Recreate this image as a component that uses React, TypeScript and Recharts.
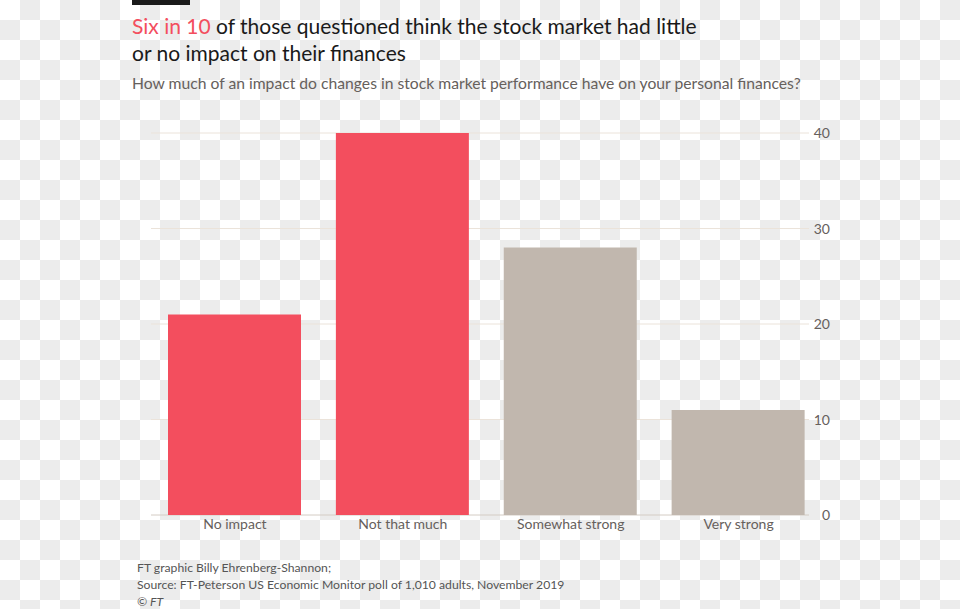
import React from "react";
import { BarChart, Bar, XAxis, YAxis, CartesianGrid, Cell } from "recharts";

const categories = ["No impact", "Not that much", "Somewhat strong", "Very strong"];
const shares = [21, 40, 28, 11];
const yTicks = [0, 10, 20, 30, 40];
const barColors = ["#f34e5e", "#f34e5e", "#c1b7ae", "#c1b7ae"];

const data = categories.map((c, i) => ({ category: c, share: shares[i] }));

const FONT = "Lato, 'Open Sans', sans-serif";
const LABEL = "#66605c";

const XTick = (props: any) => {
  const { x, y, payload } = props;
  return (
    <text x={x} y={y} dy={14} textAnchor="middle" fill={LABEL} fontSize={14} fontFamily={FONT}>
      {payload.value}
    </text>
  );
};

const YTick = (props: any) => {
  const { x, y, payload } = props;
  return (
    <text x={x + 7.5} y={y} dy={5} textAnchor="end" fill={LABEL} fontSize={14} fontFamily={FONT}>
      {payload.value}
    </text>
  );
};

const gridLine = (props: any) => {
  const { x1, x2, y1, y2, y, height } = props;
  const isBase = typeof y === "number" && typeof height === "number" && Math.abs(y1 - (y + height)) < 1;
  return (
    <line
      key={props.key ?? `g-${y1}`}
      x1={x1}
      x2={x2 - 13.5}
      y1={y1}
      y2={y2}
      stroke={isBase ? "#d4ccc4" : "#ebe3da"}
      strokeWidth={1}
    />
  );
};

export default function App() {
  return (
    <div
      style={{
        position: "absolute",
        left: 0,
        top: 0,
        width: 960,
        height: 609,
        backgroundColor: "#ffffff",
        backgroundImage: "repeating-conic-gradient(#ececec 0 25%, #ffffff 0 50%)",
        backgroundSize: "40px 40px",
        fontFamily: FONT,
        overflow: "hidden",
      }}
    >
      <div style={{ position: "absolute", left: 132, top: 0, width: 58, height: 5, background: "#1a1a1a" }} />
      <div
        style={{
          position: "absolute",
          left: 132,
          top: 12,
          width: 700,
          fontSize: 21,
          lineHeight: "27px",
          color: "#1a1a1a",
        }}
      >
        <span style={{ color: "#f34e5e" }}>Six in 10</span> of those questioned think the stock market had little
        <br />
        or no impact on their finances
      </div>
      <div style={{ position: "absolute", left: 132, top: 73, fontSize: 15.7, lineHeight: "21px", color: LABEL, whiteSpace: "nowrap" }}>
        How much of an impact do changes in stock market performance have on your personal finances?
      </div>

      <div style={{ position: "absolute", left: 0, top: 0 }}>
        <BarChart
          width={960}
          height={609}
          data={data}
          margin={{ top: 133, right: 97.5, left: 151, bottom: 0 }}
          barCategoryGap={0}
        >
          <CartesianGrid vertical={false} horizontal={gridLine as any} />
          <XAxis
            dataKey="category"
            axisLine={false}
            tickLine={false}
            tickSize={0}
            tickMargin={0}
            height={94}
            tick={<XTick />}
            interval={0}
          />
          <YAxis
            orientation="right"
            domain={[0, 40]}
            ticks={yTicks}
            axisLine={false}
            tickLine={false}
            tickSize={0}
            tickMargin={0}
            width={40}
            tick={<YTick />}
          />
          <Bar dataKey="share" barSize={133} isAnimationActive={false}>
            {data.map((d, i) => (
              <Cell key={d.category} fill={barColors[i]} />
            ))}
          </Bar>
        </BarChart>
      </div>

      <div style={{ position: "absolute", left: 137, top: 559, fontSize: 12.2, lineHeight: "17px", color: "#555" }}>
        <div>FT graphic Billy Ehrenberg-Shannon;</div>
        <div>Source: FT-Peterson US Economic Monitor poll of 1,010 adults, November 2019</div>
        <div style={{ fontStyle: "italic" }}>© FT</div>
      </div>
    </div>
  );
}
